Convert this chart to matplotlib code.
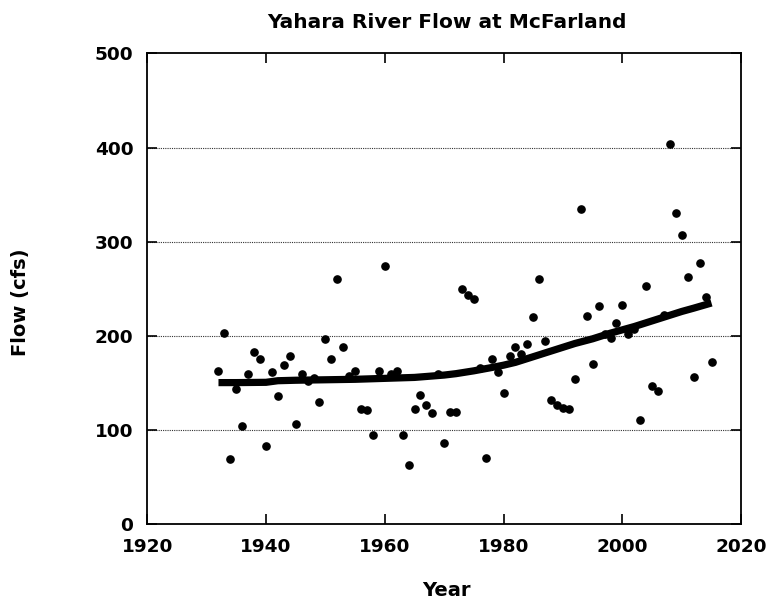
import matplotlib
matplotlib.use("Agg")
import matplotlib.pyplot as plt

years = list(range(1932, 2016))
flow = [163, 203, 69, 144, 104, 160, 183, 176, 83, 162,
        136, 169, 179, 107, 160, 152, 155, 130, 197, 176,
        260, 188, 157, 163, 123, 121, 95, 163, 274, 160,
        163, 95, 63, 123, 137, 127, 118, 160, 86, 119,
        119, 250, 243, 239, 166, 70, 176, 162, 139, 179,
        188, 181, 191, 220, 260, 195, 132, 127, 124, 122,
        154, 335, 221, 170, 232, 202, 198, 214, 233, 202,
        207, 111, 253, 147, 142, 222, 404, 330, 307, 263,
        156, 277, 241, 172]

trend_years = [1932, 1935, 1940, 1942, 1945, 1950, 1955, 1960, 1965, 1968,
               1970, 1972, 1975, 1978, 1980, 1982, 1985, 1988, 1990, 1992,
               1995, 1998, 2000, 2002, 2005, 2008, 2010, 2012, 2015]
trend_flow = [150.5, 150.5, 150.8, 152.5, 153, 153.5, 154, 155, 156, 157.5,
              158.5, 160, 163, 166.5, 169, 172, 178, 184, 188, 192,
              197, 203, 206.5, 210, 216, 222, 226, 229.5, 235]

x_ticks = [1920, 1940, 1960, 1980, 2000, 2020]
y_ticks = [0, 100, 200, 300, 400, 500]

plt.rcParams['font.family'] = ['DejaVu Sans']
plt.rcParams['font.weight'] = 'bold'

W, H = 767, 605
fig = plt.figure(figsize=(W / 100, H / 100), dpi=100)
ax = fig.add_axes([147.2 / W, 1 - 524.4 / H, (741.2 - 147.2) / W, (524.4 - 53.3) / H])

for v in y_ticks[1:-1]:
    ax.axhline(v, color='#333333', lw=0.8, ls=(0, (1, 1)), zorder=1)

ax.plot(years, flow, 'o', color='black', markersize=5.2, zorder=3)
ax.plot(trend_years, trend_flow, '-', color='black', lw=5.2,
        solid_capstyle='butt', solid_joinstyle='round', zorder=4)

ax.set_xlim(1920, 2020)
ax.set_ylim(0, 500)
ax.set_xticks(x_ticks)
ax.set_yticks(y_ticks)
ax.tick_params(axis='both', direction='in', length=7.5, width=1.2,
               top=True, right=True, labelsize=13.3, pad=10)
for lab in ax.get_xticklabels() + ax.get_yticklabels():
    lab.set_fontweight('bold')
for s in ax.spines.values():
    s.set_linewidth(1.3)
    s.set_color('black')

fig.text(447 / W, 1 - 27.7 / H, 'Yahara River Flow at McFarland',
         ha='center', va='baseline', fontsize=14.5, fontweight='bold')
fig.text(21 / W, 1 - 302 / H, 'Flow (cfs)', rotation=90,
         ha='center', va='center', fontsize=14, fontweight='bold')
fig.text(446 / W, 1 - 590 / H, 'Year',
         ha='center', va='center', fontsize=14, fontweight='bold')

fig.savefig('out.png', dpi=100)
